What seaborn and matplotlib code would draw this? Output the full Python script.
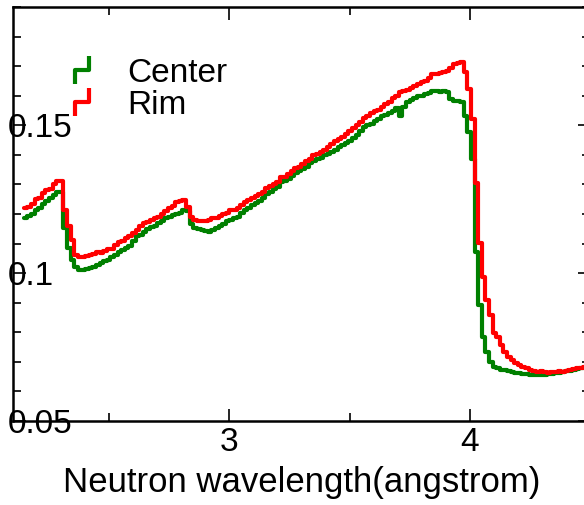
import numpy as np
import pandas as pd
import matplotlib
matplotlib.use("Agg")
import matplotlib.pyplot as plt
import seaborn as sns
from matplotlib.lines import Line2D
from matplotlib.path import Path
from matplotlib.ticker import MultipleLocator, FixedLocator, FixedFormatter

# ---- data (histogram bins) ----
bin_lo = 2.145
bin_width = 0.015

center_vals = [
    0.1188, 0.1192, 0.120, 0.1212, 0.122, 0.1235, 0.1245, 0.1255, 0.1265, 0.1276,
    0.1276, 0.1154, 0.1086, 0.1046, 0.1022, 0.1012, 0.1012, 0.1015, 0.1019, 0.1022,
    0.1029, 0.1035, 0.104, 0.1045, 0.1056, 0.1062, 0.107, 0.1078, 0.1086, 0.1092,
    0.111, 0.1125, 0.113, 0.114, 0.1148, 0.1155, 0.116, 0.117, 0.1178, 0.1185,
    0.119, 0.1195, 0.120, 0.1205, 0.1215, 0.121, 0.1165, 0.1154, 0.115, 0.1147,
    0.1144, 0.114, 0.1145, 0.1152, 0.1158, 0.1165, 0.1175, 0.118, 0.1185, 0.119,
    0.1202, 0.1215, 0.122, 0.123, 0.1238, 0.1245, 0.1255, 0.1268, 0.1276, 0.1285,
    0.1292, 0.1307, 0.131, 0.132, 0.1328, 0.1338, 0.1344, 0.1352, 0.136, 0.1372,
    0.138, 0.1385, 0.139, 0.1398, 0.1402, 0.1408, 0.1418, 0.1425, 0.1432, 0.144,
    0.1446, 0.1458, 0.1468, 0.148, 0.1495, 0.150, 0.1505, 0.1515, 0.152, 0.153,
    0.1535, 0.1542, 0.155, 0.1558, 0.153, 0.1561, 0.158, 0.1585, 0.1592, 0.1598,
    0.160, 0.1605, 0.161, 0.1615, 0.1615, 0.1612, 0.1615, 0.1612, 0.159, 0.1581,
    0.1583, 0.1578, 0.153, 0.1476, 0.1385, 0.1073, 0.0893, 0.0783, 0.0734, 0.070,
    0.0683, 0.0678, 0.0673, 0.0673, 0.067, 0.0665, 0.0663, 0.0663, 0.066, 0.0658,
    0.0656, 0.0656, 0.0655, 0.0657, 0.0656, 0.0658, 0.066, 0.0663, 0.0663, 0.0665,
    0.0668, 0.067, 0.0673, 0.0675, 0.0678, 0.068,
]

rim_vals = [
    0.122, 0.1225, 0.1235, 0.125, 0.1255, 0.127, 0.128, 0.1285, 0.130, 0.131,
    0.131, 0.1215, 0.1158, 0.1113, 0.1063, 0.1053, 0.1053, 0.1058, 0.1063, 0.1065,
    0.107, 0.1068, 0.1075, 0.108, 0.1082, 0.1095, 0.1107, 0.111, 0.1118, 0.1125,
    0.1137, 0.1145, 0.116, 0.117, 0.1172, 0.118, 0.1185, 0.119, 0.120, 0.121,
    0.122, 0.1228, 0.124, 0.1245, 0.1249, 0.1225, 0.119, 0.1181, 0.1178, 0.1175,
    0.1178, 0.1181, 0.1185, 0.1188, 0.1192, 0.120, 0.1205, 0.1212, 0.1215, 0.122,
    0.1232, 0.1242, 0.1248, 0.1255, 0.126, 0.1268, 0.1275, 0.1288, 0.1293, 0.1302,
    0.1308, 0.1324, 0.1326, 0.1335, 0.1345, 0.1355, 0.136, 0.137, 0.1378, 0.1385,
    0.1398, 0.1402, 0.141, 0.1418, 0.1428, 0.1436, 0.1448, 0.1452, 0.1462, 0.1472,
    0.148, 0.1492, 0.150, 0.1512, 0.1525, 0.153, 0.154, 0.1548, 0.1552, 0.1561,
    0.1572, 0.158, 0.1592, 0.1598, 0.1612, 0.1615, 0.162, 0.1625, 0.1632, 0.1639,
    0.1645, 0.165, 0.166, 0.1673, 0.1675, 0.1678, 0.168, 0.1685, 0.1695, 0.1707,
    0.1712, 0.1714, 0.168, 0.1622, 0.152, 0.1305, 0.1103, 0.0988, 0.091, 0.086,
    0.0798, 0.0785, 0.0758, 0.0734, 0.0717, 0.0705, 0.0697, 0.069, 0.0683, 0.068,
    0.0673, 0.0668, 0.0666, 0.0668, 0.0666, 0.0664, 0.0667, 0.0666, 0.0668, 0.0666,
    0.067, 0.0673, 0.0675, 0.0678, 0.068, 0.0683,
]

series_names = ["Center", "Rim"]
series_colors = ["#008000", "#ff0000"]
x_major_ticks = [3, 4]
x_major_labels = ["3", "4"]
y_major_ticks = [0.05, 0.1, 0.15]
y_major_labels = ["0.05", "0.1", "0.15"]
x_label = "Neutron wavelength(angstrom)"

n_bins = len(center_vals)
edges = [bin_lo + bin_width * i for i in range(n_bins + 1)]
centers = [0.5 * (edges[i] + edges[i + 1]) for i in range(n_bins)]

df = pd.concat([
    pd.DataFrame({"wl": centers, "w": center_vals, "series": "Center"}),
    pd.DataFrame({"wl": centers, "w": rim_vals, "series": "Rim"}),
], ignore_index=True)

# ---- figure ----
sns.set_style("white")
plt.rcParams["font.family"] = ["Liberation Sans", "DejaVu Sans"]
plt.rcParams.update({"text.color": "black", "axes.labelcolor": "black",
                     "xtick.color": "black", "ytick.color": "black",
                     "axes.edgecolor": "black"})

fig = plt.figure(figsize=(5.84, 5.05), dpi=100)
ax = fig.add_axes([13 / 584, 84 / 505, 577 / 584, 414 / 505])

for name, col in zip(series_names, series_colors):
    sub = df[df["series"] == name]
    sns.histplot(data=sub, x="wl", weights="w", bins=edges, element="step",
                 fill=False, color=col, linewidth=3, ax=ax)

ax.set_xlim(2.1, 4.5)
ax.set_ylim(0.05, 0.19)

ax.xaxis.set_major_locator(FixedLocator(x_major_ticks))
ax.xaxis.set_major_formatter(FixedFormatter(x_major_labels))
ax.xaxis.set_minor_locator(MultipleLocator(0.5))
ax.yaxis.set_major_locator(FixedLocator(y_major_ticks))
ax.yaxis.set_major_formatter(FixedFormatter(y_major_labels))
ax.yaxis.set_minor_locator(MultipleLocator(0.01))

ax.tick_params(which="both", direction="in", top=True, right=True,
               bottom=True, left=True, width=1.2, color="black",
               labelcolor="black")
ax.tick_params(which="major", length=9)
ax.tick_params(which="minor", length=5.5)
ax.tick_params(axis="x", which="major", labelsize=24, pad=4)
ax.tick_params(axis="y", which="major", labelsize=24, pad=3.6)
for lab in ax.get_yticklabels():
    lab.set_horizontalalignment("left")

for sp in ax.spines.values():
    sp.set_linewidth(1.8)
    sp.set_color("black")

ax.set_ylabel("")
ax.set_xlabel(x_label, fontsize=25, labelpad=6, color="black")

# legend with step-shaped symbols
step_path = Path([(-0.5, -1.0), (-0.5, 0.0), (0.5, 0.0), (0.5, 1.0)],
                 [Path.MOVETO, Path.LINETO, Path.LINETO, Path.LINETO])
handles = [Line2D([], [], linestyle="none", marker=step_path, markersize=20,
                  markerfacecolor="none", markeredgecolor=c, markeredgewidth=3)
           for c in series_colors]
leg = ax.legend(handles, series_names, loc="upper left",
                bbox_to_anchor=(0.091, 0.877),
                frameon=False, fontsize=24, handlelength=1.0, handletextpad=0.85,
                labelspacing=0.02, borderpad=0, borderaxespad=0)
for t in leg.get_texts():
    t.set_color("black")

fig.savefig("out.png", dpi=100, facecolor="white")
